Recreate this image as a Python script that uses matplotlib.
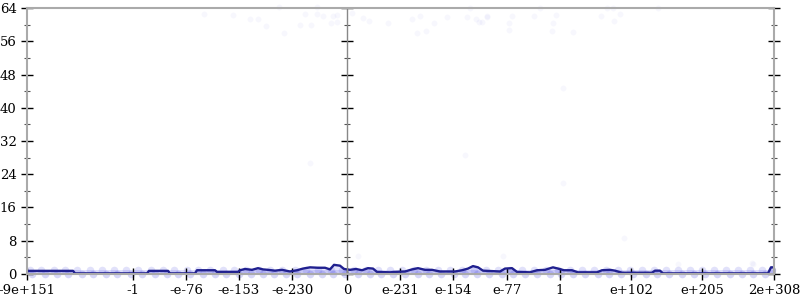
# Distribution of hashed floats across the double range
import matplotlib
matplotlib.use('Agg')
import matplotlib.pyplot as plt

# x axis is in "bit pattern order" units, labels placed at these positions
tick_pos = [0, 106, 159, 212, 265, 320, 373, 426, 480, 533, 604, 675, 747]
tick_labels = ['-9e+151', '-1', '-e-76', '-e-153', '-e-230', '0',
               'e-231', 'e-154', 'e-77', '1', 'e+102', 'e+205', '2e+308']
zero_pos = 320

# running average line
line_x = [0, 46, 48, 120, 122, 141, 143, 168, 170, 188, 190, 211, 213, 218, 225,
          231, 236, 241, 248, 255, 263, 270, 276, 283, 291, 298, 303, 307, 313,
          317, 323, 329, 335, 341, 346, 350, 363, 368, 378, 385, 391, 398, 405,
          413, 428, 435, 441, 446, 451, 456, 473, 478, 485, 490, 503, 510, 518,
          526, 531, 537, 545, 551, 570, 575, 583, 588, 595, 625, 628, 633, 636,
          741, 744, 747]
line_y = [0.75, 0.75, 0.15, 0.15, 0.75, 0.75, 0.15, 0.15, 0.9, 0.9, 0.5, 0.5,
          0.9, 1.2, 1.0, 1.4, 1.1, 1.0, 0.8, 1.0, 0.6, 0.9, 1.3, 1.6, 1.5, 1.5,
          1.1, 2.2, 2.0, 1.2, 1.0, 1.2, 0.9, 1.4, 1.3, 0.5, 0.4, 0.5, 0.6, 1.1,
          1.4, 1.0, 1.0, 0.6, 0.6, 0.9, 1.3, 1.9, 1.6, 0.8, 0.6, 1.3, 1.4, 0.5,
          0.4, 0.9, 1.0, 1.6, 1.3, 0.9, 0.9, 0.4, 0.4, 0.9, 1.0, 0.8, 0.3, 0.3,
          0.8, 0.8, 0.15, 0.15, 1.6, 1.6]

# individual samples: the dense band of 0 / 1 counts
band0_x = [5, 18, 30, 41, 55, 66, 79, 90, 104, 115, 128, 140, 151, 163, 176,
           188, 199, 212, 224, 236, 247, 259, 270, 283, 295, 306, 318, 331, 343,
           354, 366, 378, 391, 402, 414, 427, 438, 450, 462, 475, 486, 498, 510,
           523, 534, 546, 558, 571, 582, 594, 606, 619, 630, 642, 655, 667, 678,
           690, 703, 715, 726, 738]
band1_x = [3, 14, 27, 38, 50, 63, 75, 87, 99, 111, 124, 136, 147, 160, 171, 183,
           196, 207, 219, 232, 243, 255, 268, 279, 291, 304, 315, 327, 339, 351,
           363, 375, 387, 399, 411, 423, 435, 447, 459, 471, 483, 495, 507, 519,
           531, 543, 555, 567, 579, 591, 603, 615, 627, 639, 651, 663, 675, 687,
           699, 711, 723, 735, 745]

# outlier samples (high counts near the top and a few in between)
out_x = [177, 206, 223, 231, 239, 252, 257, 273, 278, 284, 290, 290, 296, 304,
         306, 310, 310, 325, 336, 342, 361, 385, 393, 390, 399, 407, 420, 440,
         443, 449, 452, 455, 460, 460, 485, 482, 482, 507, 513, 529, 526, 525,
         546, 574, 580, 586, 593, 587, 631, 283, 536, 536, 438, 597, 331, 476,
         651, 726, 725]
out_y = [62.6, 62.4, 61.4, 61.4, 59.7, 64.2, 58.0, 59.9, 62.6, 59.9, 62.6, 64.2,
         62.1, 60.4, 62.1, 62.4, 60.6, 62.8, 61.6, 60.9, 60.4, 61.4, 62.1, 58.0,
         58.5, 60.4, 61.9, 61.9, 64.0, 61.4, 60.6, 60.6, 62.1, 61.9, 62.1, 60.4,
         58.7, 62.1, 64.0, 62.4, 60.4, 58.5, 58.2, 62.1, 64.0, 64.0, 62.6, 60.9,
         64.0, 26.7, 44.7, 21.9, 28.6, 8.7, 4.3, 4.3, 2.4, 2.4, 2.6]

fig = plt.figure(figsize=(8, 3), dpi=100)
ax = fig.add_axes([0.03375, 0.0867, 0.93375, 0.8866])

dot_color = '#3a3ae0'
# the samples overlap so much they form a solid strip
ax.fill_between([0, 747], [1, 1], [0, 0], color=dot_color, alpha=0.16,
                linewidth=0)
ax.scatter(band0_x, [0] * len(band0_x), s=30, color=dot_color, alpha=0.2,
           linewidths=0, clip_on=False)
ax.scatter(band1_x, [1] * len(band1_x), s=30, color=dot_color, alpha=0.15,
           linewidths=0, clip_on=False)
ax.scatter(out_x, out_y, s=18, color=dot_color, alpha=0.04, linewidths=0,
           clip_on=False)

ax.fill_between(line_x, line_y, 0, color='#5050e0', alpha=0.15, linewidth=0)
ax.plot(line_x, line_y, color='#20208f', linewidth=1.7)

ax.set_xlim(0, 747)
ax.set_ylim(0, 64)

ax.set_xticks(tick_pos)
ax.set_xticklabels(tick_labels)
ax.set_yticks(range(0, 65, 8))
ax.set_yticks(range(4, 64, 8), minor=True)

for s in ax.spines.values():
    s.set_color('#aaaaaa')
    s.set_linewidth(1.5)

ax.tick_params(axis='both', which='major', direction='inout', length=9,
               width=1, color='black', labelsize=9.5, pad=3)
ax.tick_params(axis='y', which='minor', direction='inout', length=5,
               width=0.8, color='#555555')

# vertical axis at zero, and on the right
ax.axvline(zero_pos, color='#888888', linewidth=1)
for loc in [zero_pos / 747, 1.0]:
    sec = ax.secondary_yaxis(loc)
    sec.spines['right'].set_visible(False)
    sec.spines['left'].set_visible(False)
    sec.set_yticks(range(0, 65, 8))
    sec.set_yticks(range(4, 64, 8), minor=True)
    sec.set_yticklabels([])
    sec.tick_params(which='major', direction='inout', length=9, width=1,
                    color='black')
    sec.tick_params(which='minor', direction='inout', length=5, width=0.8,
                    color='#555555')

for lab in ax.get_xticklabels() + ax.get_yticklabels():
    lab.set_family('DejaVu Serif')

plt.savefig('out.png', dpi=100)
